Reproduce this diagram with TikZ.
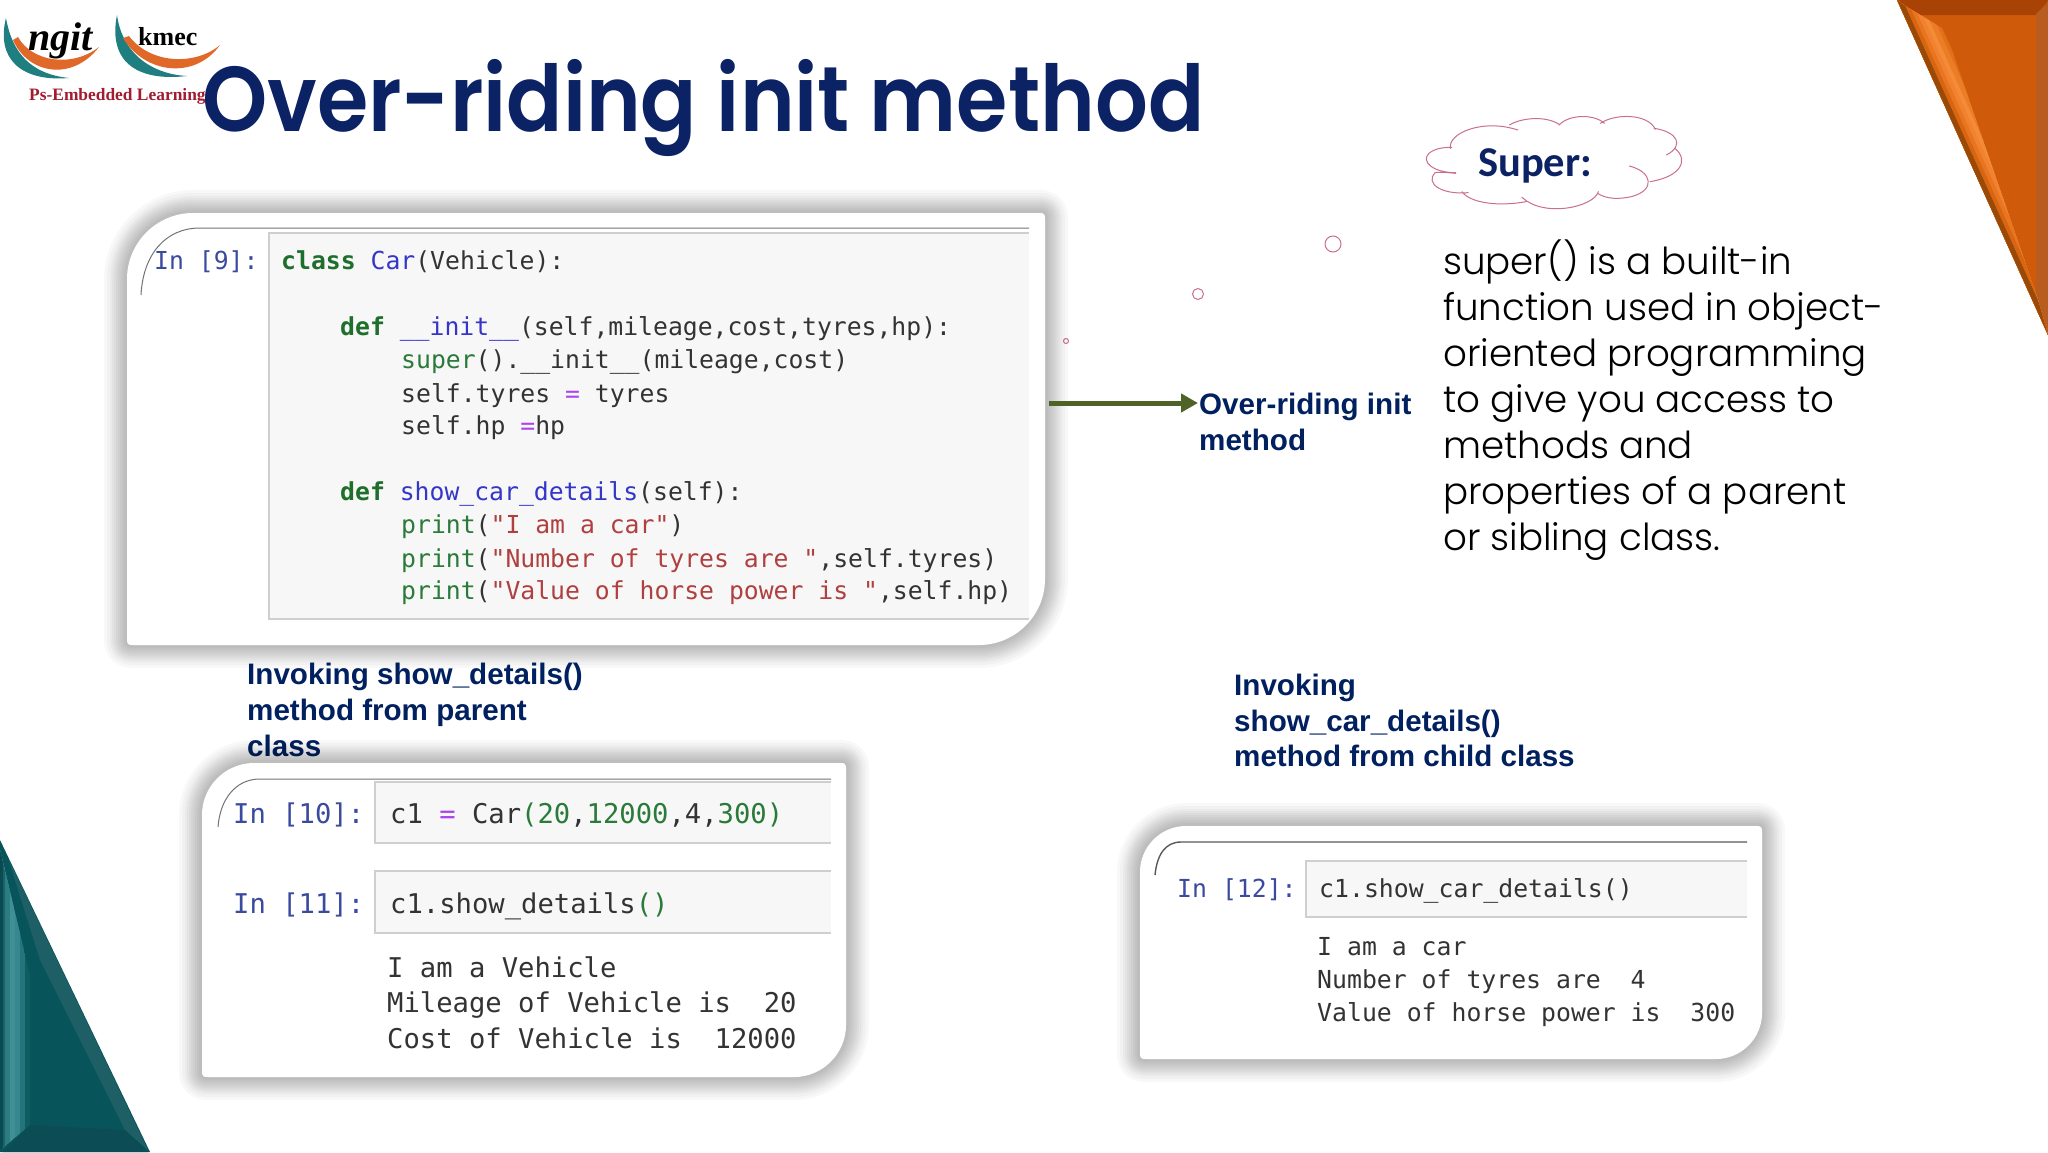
\documentclass[tikz,border=0pt]{standalone}
\usepackage{fontspec}
\usetikzlibrary{arrows.meta}
\setmainfont{Liberation Sans}
\newfontfamily\titlef{Poppins SemiBold}[FakeStretch=0.902]
\newfontfamily\bodyf{Poppins Light}
\newfontfamily\cloudf{Carlito}[BoldFont=Carlito Bold]
\newfontfamily\serf{Liberation Serif}
\newfontfamily\codef{DejaVu Sans Mono}
\definecolor{navy}{HTML}{0B2265}
\definecolor{lblnavy}{HTML}{002060}
\definecolor{olive}{HTML}{4F6228}
\definecolor{pinkline}{HTML}{C9708A}
\definecolor{prompt}{HTML}{3A4A9F}
\definecolor{cgreen}{HTML}{2A7A3A}
\definecolor{ckw}{HTML}{1E6E2C}
\definecolor{cblue}{HTML}{3436C8}
\definecolor{cred}{HTML}{B04040}
\definecolor{cpurple}{HTML}{AA44EE}
\definecolor{ctext}{HTML}{333333}
\definecolor{cellbg}{HTML}{F7F7F7}
\definecolor{cellln}{HTML}{CFCFCF}
\definecolor{logoteal}{HTML}{1F7F80}
\definecolor{logoor}{HTML}{E0692A}
\definecolor{logored}{HTML}{A01C2E}
\newcommand\kwd[1]{\textcolor{ckw}{\bfseries #1}}
\newcommand\fnc[1]{\textcolor{cblue}{#1}}
\newcommand\blt[1]{\textcolor{cgreen}{#1}}
\newcommand\strg[1]{\textcolor{cred}{#1}}
\newcommand\oper[1]{\textcolor{cpurple}{#1}}
\newcommand\softcard[1]{%
  \foreach \w in {46,40,34,30,26,22,18,14,10,6}{\draw[line width=\w pt,black,opacity=.028,line join=round] #1;}%
  \fill[white] #1;}
\newcommand\cardshape[5]{%
  ({#1},{#2+#5}) .. controls ({#1},{#2+.45*#5}) and ({#1+.45*#5},{#2}) .. ({#1+#5},{#2})
  -- ({#3-6},{#2}) .. controls ({#3-1},{#2}) and ({#3},{#2+1}) .. ({#3},{#2+6})
  -- ({#3},{#4-#5}) .. controls ({#3},{#4-.45*#5}) and ({#3-.45*#5},{#4}) .. ({#3-#5},{#4})
  -- ({#1+6},{#4}) .. controls ({#1+1},{#4}) and ({#1},{#4-1}) .. ({#1},{#4-6}) -- cycle}
\tikzset{
  hexc/.code={\definecolor{tmpc}{HTML}{#1}\tikzset{color=tmpc}},
  codeline/.style={anchor=base west,inner sep=0pt,text=ctext},
  codeA/.style={codeline,font=\codef\fontsize{24.75}{30}\selectfont},
  codeB/.style={codeline,font=\codef\fontsize{27.2}{33}\selectfont},
  codeC/.style={codeline,font=\codef\fontsize{24.8}{30}\selectfont},
  cellbox/.style={fill=cellbg,draw=cellln,line width=1.2pt},
  rule/.style={draw=black!55,line width=1pt},
  lbl/.style={anchor=base west,inner sep=0pt,text=lblnavy,font=\bfseries\fontsize{29.6}{34}\selectfont},
  bodyline/.style={anchor=base west,inner sep=0pt,text=black,font=\bodyf\fontsize{37.2}{46}\selectfont},
  dot/.style={draw=pinkline,line width=1pt,fill=white},
}
\begin{document}
\begin{tikzpicture}[x=1pt,y=-1pt]
\useasboundingbox (0,0) rectangle (2048,1152);
\fill[white] (0,0) rectangle (2048,1152);

% teal triangle
\fill[hexc=07545A] (0,840) -- (150,1152) -- (0,1152) -- cycle;
\begin{scope}
  \clip (0,850) -- (30,975) -- (30,1125) -- (0,1150) -- cycle;
  \foreach \w/\c in {60/0F5D63,50/24757B,40/37888E,30/3F8F95,20/2D7C82,10/14646A,5/0A4A50}
    \draw[line width=\w pt,hexc=\c] (0,830) -- (0,1160);
\end{scope}
\fill[hexc=1E5F66] (8,858) -- (148,1150) -- (125,1130) -- (40,960) -- cycle;
\fill[hexc=0C4D55] (3,1152) -- (30,1125) -- (125,1130) -- (148,1152) -- cycle;

% orange triangle
\fill[hexc=CF5A0A] (1897,0) -- (2048,0) -- (2048,335) -- cycle;
\fill[hexc=A84305] (1897,0) -- (2048,0) -- (2040,15) -- (1907,15) -- cycle;
\fill[hexc=B85C20] (2048,2) -- (2036,14) -- (2036,305) -- (2048,335) -- cycle;
\begin{scope}
  \clip (1897,0) -- (1905,6) -- (1942,28) -- (1952,50) -- (2038,300) -- (2048,335) -- cycle;
  \foreach \w/\c in {72/D8620F,62/E2701A,52/EC7D27,42/F48B37,34/F28232,26/E87520,18/D96510,10/9A4A08}
    \draw[line width=\w pt,hexc=\c] (1897,0) -- (2048,335);
\end{scope}

% logos
\fill[logoteal] (6,18) .. controls (-4,58) and (20,82) .. (69,78) .. controls (30,74) and (12,52) .. (6,18) -- cycle;
\fill[logoor] (13,40) .. controls (28,74) and (72,82) .. (99,47) .. controls (72,68) and (32,62) .. (18,37) -- cycle;
\fill[logoteal] (117,15) .. controls (108,60) and (135,82) .. (187,76) .. controls (150,74) and (122,52) .. (117,15) -- cycle;
\fill[logoor] (123,38) .. controls (145,74) and (195,80) .. (220,45) .. controls (195,66) and (150,64) .. (129,36) -- cycle;
\node[anchor=base west,inner sep=0pt,font=\serf\itshape\bfseries\fontsize{40}{40}\selectfont] (ngit) at (28,50) {ngit};
\node[anchor=base west,inner sep=0pt,font=\serf\bfseries\fontsize{26}{26}\selectfont] (kmec) at (138,45) {kmec};
\node[anchor=base west,inner sep=0pt,text=logored,font=\serf\bfseries\fontsize{17.4}{20}\selectfont] (ps) at (29,100) {Ps-Embedded Learning};

% title
\node[anchor=base west,inner sep=0pt,text=navy,font=\titlef\fontsize{92}{92}\selectfont] (title) at (202,131) {Over-riding init method};

% cloud
\begin{scope}[shift={(1400,90)},x=0.4132pt,y=-0.3333pt]
  \draw[pinkline,line width=1pt,line cap=round]
    (122,175) .. controls (115,130) and (200,85) .. (285,120)
    (265,105) .. controls (290,85) and (350,75) .. (385,103)
    (385,105) .. controls (410,72) and (470,72) .. (495,100)
    (485,100) .. controls (520,70) and (600,70) .. (618,118)
    (615,115) .. controls (670,125) and (690,165) .. (645,195)
    (665,175) .. controls (700,210) and (680,260) .. (605,275)
    (555,228) .. controls (610,245) and (620,300) .. (560,320) .. controls (530,328) and (500,328) .. (478,310)
    (480,305) .. controls (470,350) and (350,385) .. (295,322)
    (305,335) .. controls (240,350) and (170,340) .. (150,305)
    (165,308) .. controls (100,315) and (60,280) .. (85,248) .. controls (95,245) and (115,248) .. (135,250)
    (135,248) .. controls (80,248) and (50,215) .. (70,190) .. controls (85,175) and (105,172) .. (125,172);
\end{scope}
\node[anchor=base west,inner sep=0pt,text=navy,font=\cloudf\bfseries\fontsize{42.5}{42}\selectfont] (super) at (1478,176) {Super:};

% body text
\node[bodyline] (b1) at (1443,274) {super() is a built-in};
\node[bodyline] (b2) at (1443,320) {function used in object-};
\node[bodyline] (b3) at (1443,366) {oriented programming};
\node[bodyline] (b4) at (1443,412) {to give you access to};
\node[bodyline] (b5) at (1443,458) {methods and};
\node[bodyline] (b6) at (1443,504) {properties of a parent};
\node[bodyline] (b7) at (1443,550) {or sibling class.};

% dots
\draw[dot] (1333,244) circle (8);
\draw[dot] (1198,294) circle (5.5);
\draw[dot] (1066,341) circle (2.5);

% card A
\def\cardA{\cardshape{127}{213}{1045}{645}{66}}
\softcard{\cardA}
\draw[rule] (141,295) .. controls (143,255) and (165,228) .. (200,228) -- (1029,228);
\draw[cellbox] (1029,233) -- (269,233) -- (269,619) -- (1029,619);
\node[codeA,text=prompt] (a0) at (154,269) {In [9]:};
\node[codeA] (a1) at (281,269) {\kwd{class} \fnc{Car}(Vehicle):};
\node[codeA] (a2) at (340,335) {\kwd{def} \fnc{\_\_init\_\_}(self,mileage,cost,tyres,hp):};
\node[codeA] (a3) at (401,368) {\blt{super}().\_\_init\_\_(mileage,cost)};
\node[codeA] (a4) at (401,402) {self.tyres \oper{=} tyres};
\node[codeA] (a5) at (401,434) {self.hp \oper{=}hp};
\node[codeA] (a6) at (340,500) {\kwd{def} \fnc{show\_car\_details}(self):};
\node[codeA] (a7) at (401,533) {\blt{print}(\strg{"I am a car"})};
\node[codeA] (a8) at (401,567) {\blt{print}(\strg{"Number of tyres are "},self.tyres)};
\node[codeA] (a9) at (401,599) {\blt{print}(\strg{"Value of horse power is "},self.hp)};

% arrow and its label
\coordinate (arrowstart) at (1049,403);
\coordinate (arrowend) at (1198,403);
\draw[olive,line width=5pt,-{Triangle[length=17pt,width=18pt]}] (arrowstart) -- (arrowend);
\node[lbl] (l1) at (1199,414) {Over-riding init};
\node[lbl] (l2) at (1199,450) {method};

% labels
\node[lbl] (m1) at (247,684) {Invoking show\_details()};
\node[lbl] (m2) at (247,720) {method from parent};
\node[lbl] (m3) at (247,756) {class};
\node[lbl] (r1) at (1234,695) {Invoking};
\node[lbl] (r2) at (1234,731) {show\_car\_details()};
\node[lbl] (r3) at (1234,766) {method from child class};

% card B
\def\cardB{\cardshape{202}{763}{846}{1077}{52}}
\softcard{\cardB}
\draw[rule] (218,827) .. controls (220,800) and (235,779) .. (260,779) -- (831,779);
\draw[cellbox] (831,782) -- (375,782) -- (375,843) -- (831,843);
\draw[cellbox] (831,871) -- (375,871) -- (375,933) -- (831,933);
\node[codeB,text=prompt] (c0) at (233,823) {In [10]:};
\node[codeB] (c1) at (390,823) {c1 \oper{=} Car\blt{(20},\blt{12000},4,\blt{300)}};
\node[codeB,text=prompt] (c2) at (233,913) {In [11]:};
\node[codeB] (c3) at (390,913) {c1.show\_details\blt{()}};
\node[codeB] (c4) at (387,977) {I am a Vehicle};
\node[codeB] (c5) at (387,1012) {Mileage of Vehicle is\ \ 20};
\node[codeB] (c6) at (387,1048) {Cost of Vehicle is\ \ 12000};

% card C
\def\cardC{\cardshape{1140}{826}{1762}{1059}{46}}
\softcard{\cardC}
\draw[black!65,line width=1.4pt] (1155,875) .. controls (1157,855) and (1165,842) .. (1181,842) -- (1747,842);
\draw[cellbox] (1747,861) -- (1306,861) -- (1306,917) -- (1747,917);
\node[codeC,text=prompt] (d0) at (1177,897) {In [12]:};
\node[codeC] (d1) at (1319,897) {c1.show\_car\_details()};
\node[codeC] (d2) at (1317,955) {I am a car};
\node[codeC] (d3) at (1317,988) {Number of tyres are\ \ 4};
\node[codeC] (d4) at (1317,1021) {Value of horse power is\ \ 300};
\end{tikzpicture}
\end{document}
